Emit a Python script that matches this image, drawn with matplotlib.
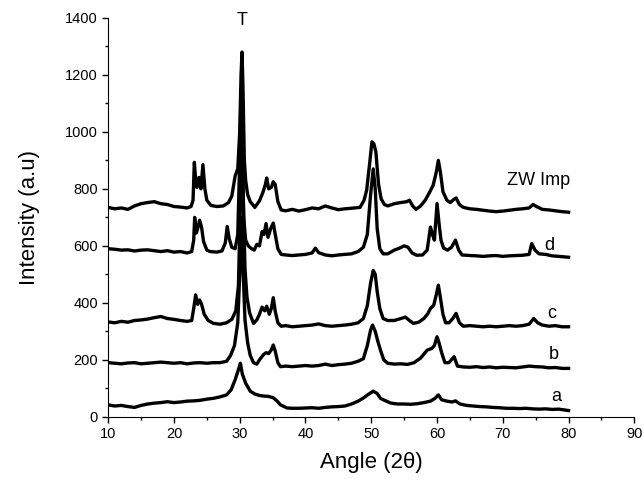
import matplotlib
matplotlib.use("Agg")
import matplotlib.pyplot as plt
from matplotlib.ticker import MultipleLocator

plt.rcParams["font.family"] = ["Liberation Sans", "DejaVu Sans"]

# XRD patterns (angle 2theta, intensity a.u.), offset as in the original
zw_angle = [10.0, 11.0, 12.0, 13.0, 14.0, 15.0, 16.0, 17.0, 18.0, 19.0, 20.0, 21.0, 22.0, 22.6,
            22.9, 23.1, 23.3, 23.5, 23.8, 24.1, 24.4, 24.7, 25.0, 25.6, 26.5, 27.5, 28.3, 28.8,
            29.3, 29.7, 30.0, 30.2, 30.35, 30.5, 30.7, 30.9, 31.2, 31.6, 32.3, 33.0, 33.5, 33.9,
            34.1, 34.4, 34.8, 35.1, 35.4, 35.8, 36.3, 37, 38, 39, 40, 41, 42, 43, 44, 45, 46, 47,
            48.3, 48.9, 49.3, 49.8, 50.1, 50.4, 50.7, 51.1, 51.5, 52.0, 52.5, 53.5, 54.5, 55.4,
            55.8, 56.3, 56.8, 57.5, 58.2, 58.8, 59.4, 59.9, 60.2, 60.5, 60.9, 61.5, 62.0, 62.5,
            62.9, 63.4, 64.0, 65, 66, 67, 68, 69, 70, 71, 72, 73, 74, 74.6, 75.2, 76, 77, 78, 79, 80]
zw_int = [735, 730, 733, 728, 740, 748, 752, 755, 748, 745, 738, 736, 733, 738,
          760, 893, 830, 805, 840, 800, 885, 800, 760, 742, 738, 740, 752, 775,
          845, 870, 1000, 1200, 1280, 1150, 900, 830, 780, 755, 735, 758, 786, 815,
          838, 800, 805, 825, 815, 755, 726, 723, 728, 722, 727, 733, 730, 740, 733, 727, 730, 732,
          735, 760, 795, 899, 965, 958, 930, 817, 765, 745, 740, 748, 752, 755,
          760, 740, 728, 740, 760, 785, 812, 860, 900, 860, 790, 760, 752, 762,
          768, 745, 735, 730, 728, 725, 722, 720, 722, 725, 728, 730, 733, 745, 737, 728, 726, 723, 720, 718]

d_angle = [10, 11, 12, 13, 14, 15, 16, 17, 18, 19, 20, 21, 22, 22.7, 23.0, 23.15, 23.4, 23.6,
           23.9, 24.2, 24.5, 25.0, 25.5, 26.5, 27.3, 27.8, 28.1, 28.4, 28.8, 29.3, 29.7, 30.0,
           30.2, 30.4, 30.6, 30.9, 31.3, 31.8, 32.2, 32.6, 33.0, 33.4, 33.7, 34.0, 34.3, 34.7,
           35.1, 35.4, 35.8, 36.3, 37, 38, 39, 40, 41, 41.5, 42, 43, 44, 45, 46, 47, 48, 48.8,
           49.4, 49.9, 50.3, 50.6, 50.9, 51.3, 51.8, 52.5, 53.5, 54.3, 55.0, 55.6, 56.2, 56.9,
           57.8, 58.5, 59.0, 59.3, 59.6, 60.0, 60.3, 60.6, 61.0, 61.6, 62.2, 62.8, 63.3, 63.8,
           65, 66, 67, 68, 69, 70, 71, 72, 73, 74, 74.4, 74.9, 75.5, 76.5, 77.5, 78.5, 80]
d_int = [590, 588, 585, 586, 582, 585, 586, 583, 580, 583, 578, 580, 575, 580, 620, 700, 645, 660,
         690, 665, 615, 585, 580, 578, 582, 610, 668, 625, 595, 590, 640, 900,
         1150, 950, 700, 620, 600, 590, 585, 605, 600, 650, 640, 678, 630, 660,
         680, 640, 590, 570, 568, 566, 568, 570, 575, 592, 576, 568, 565, 568, 570, 572, 580, 595,
         640, 780, 870, 800, 660, 590, 572, 572, 585, 592, 600, 595, 575, 567,
         568, 585, 666, 640, 620, 749, 680, 620, 592, 585, 595, 620, 585, 568,
         566, 565, 563, 565, 566, 563, 565, 566, 567, 570, 608, 585, 572, 570, 565, 563, 560]

c_angle = [10, 11, 12, 13, 14, 15, 16, 17, 18, 19, 20, 21, 22, 22.7, 23.0, 23.3, 23.6, 23.9,
           24.2, 24.6, 25.2, 26, 27, 28, 28.8, 29.4, 29.8, 30.1, 30.3, 30.5, 30.8, 31.1, 31.5,
           32.1, 32.6, 33.0, 33.4, 33.8, 34.1, 34.5, 34.8, 35.1, 35.4, 35.8, 36.3, 37, 38, 39,
           40, 41, 42, 43, 44, 45, 46, 47, 48, 48.8, 49.4, 49.9, 50.3, 50.6, 50.9, 51.3, 51.8,
           52.5, 53.5, 54.5, 55.2, 55.8, 56.4, 57.2, 58.0, 58.6, 59.0, 59.5, 59.9, 60.2, 60.5,
           60.9, 61.3, 61.8, 62.4, 62.9, 63.4, 64, 65, 66, 67, 68, 69, 70, 71, 72, 73, 74, 74.7,
           75.3, 76, 77, 78, 79, 80]
c_int = [333, 330, 335, 332, 338, 340, 343, 348, 352, 345, 342, 338, 335, 338, 380, 428, 395, 410,
         395, 360, 338, 328, 325, 330, 342, 372, 460, 750, 980, 800, 520, 420, 365,
         328, 340, 360, 385, 372, 388, 360, 380, 418, 370, 330, 318, 320, 316, 318,
         320, 322, 326, 320, 318, 320, 322, 325, 330, 345, 390, 470, 514, 500, 440, 380, 345,
         338, 338, 345, 350, 338, 328, 332, 345, 362, 380, 392, 430, 462, 420,
         360, 330, 330, 345, 363, 330, 318, 320, 318, 316, 318, 316, 318, 320, 318, 320, 325, 345,
         330, 322, 318, 320, 316, 316]

b_angle = [10, 11, 12, 13, 14, 15, 16, 17, 18, 19, 20, 21, 22, 23, 24, 25, 26, 27, 28, 28.6,
           29.2, 29.7, 30.0, 30.25, 30.5, 30.8, 31.2, 31.6, 32.1, 32.6, 33.0, 33.6, 34.0, 34.4,
           34.8, 35.1, 35.4, 35.8, 36.2, 37, 38, 39, 40, 41, 42, 43, 44, 45, 46, 47, 48, 48.8,
           49.4, 49.9, 50.2, 50.6, 51.0, 51.4, 51.9, 52.5, 53.5, 54.5, 55.5, 56.5, 57.5, 58.5,
           59.2, 59.6, 60.0, 60.3, 60.7, 61.2, 61.8, 62.6, 63.1, 64, 65, 66, 67, 68, 69, 70, 71,
           72, 73, 74, 75, 76, 77, 78, 79, 80]
b_int = [190, 188, 186, 189, 190, 186, 188, 190, 192, 190, 188, 190, 186, 189, 190, 188, 190, 190, 195, 215,
         250, 330, 500, 700, 520, 340, 260, 215, 190, 185, 200, 218, 225, 222,
         235, 252, 230, 190, 176, 178, 176, 178, 180, 178, 180, 185, 180, 183, 185, 188, 195, 204,
         250, 305, 322, 300, 265, 234, 200, 188, 185, 186, 184, 190, 206, 234,
         240, 250, 281, 260, 225, 190, 190, 211, 178, 175, 174, 176, 173, 175, 172, 174, 173,
         172, 175, 178, 176, 175, 172, 173, 170, 170]

a_angle = [10, 11, 12, 13, 14, 15, 16, 17, 18, 19, 20, 21, 22, 23, 24, 25, 26, 27, 28, 28.7,
           29.3, 29.8, 30.1, 30.4, 30.9, 31.6, 32.3, 33.0, 33.6, 34.3, 35.1, 35.7, 36.2, 37.2,
           38, 39, 40, 41, 42, 43, 44, 45, 46, 47, 48, 48.8, 49.5, 50.3, 50.9, 51.4, 52, 53, 54,
           55, 56, 57, 58, 59, 59.7, 60.2, 60.7, 61.5, 62.3, 62.8, 63.5, 64.5, 65.5, 66.5, 67.5,
           68.5, 69.5, 70.5, 71.5, 72.5, 73.5, 74.5, 75.5, 76.5, 77.5, 78.5, 80]
a_int = [42, 38, 40, 36, 33, 40, 45, 48, 50, 53, 50, 52, 55, 56, 58, 62, 65, 70, 77, 95,
         130, 165, 188, 150, 118, 90, 80, 75, 73, 72, 67, 55, 42, 31,
         30, 30, 31, 32, 30, 33, 35, 36, 38, 45, 55, 66, 78, 90, 82, 65, 58, 48, 45,
         45, 44, 46, 50, 55, 65, 77, 60, 55, 52, 56, 45, 40, 38, 36, 35,
         33, 32, 30, 30, 29, 30, 28, 27, 28, 26, 27, 22]

series = [
    (zw_angle, zw_int, "ZW Imp", 75.4, 830),
    (d_angle, d_int, "d", 77.1, 602),
    (c_angle, c_int, "c", 77.5, 363),
    (b_angle, b_int, "b", 77.7, 217),
    (a_angle, a_int, "a", 78.2, 71),
]

fig = plt.figure(figsize=(6.44, 4.83), dpi=100)
ax = fig.add_axes([0.168, 0.137, 0.817, 0.826])

for x, y, name, lx, ly in series:
    ax.plot(x, y, color="black", linewidth=2.4)
    ax.text(lx, ly, name, fontsize=13, ha="center", va="center")

ax.text(30.4, 1390, "T", fontsize=13, ha="center", va="center", clip_on=False)

ax.set_xlim(10, 90)
ax.set_ylim(0, 1400)
ax.xaxis.set_major_locator(MultipleLocator(10))
ax.xaxis.set_minor_locator(MultipleLocator(5))
ax.yaxis.set_major_locator(MultipleLocator(200))
ax.yaxis.set_minor_locator(MultipleLocator(100))
ax.tick_params(which="major", direction="out", length=4.5, width=1, labelsize=10.5, pad=3)
ax.tick_params(which="minor", direction="out", length=2.5, width=1)

ax.spines["top"].set_visible(False)
ax.spines["right"].set_visible(False)

ax.set_xlabel("Angle (2\u03b8)", fontsize=16, labelpad=8)
ax.set_ylabel("Intensity (a.u)", fontsize=16, labelpad=18)

fig.savefig("out.png", dpi=100)
